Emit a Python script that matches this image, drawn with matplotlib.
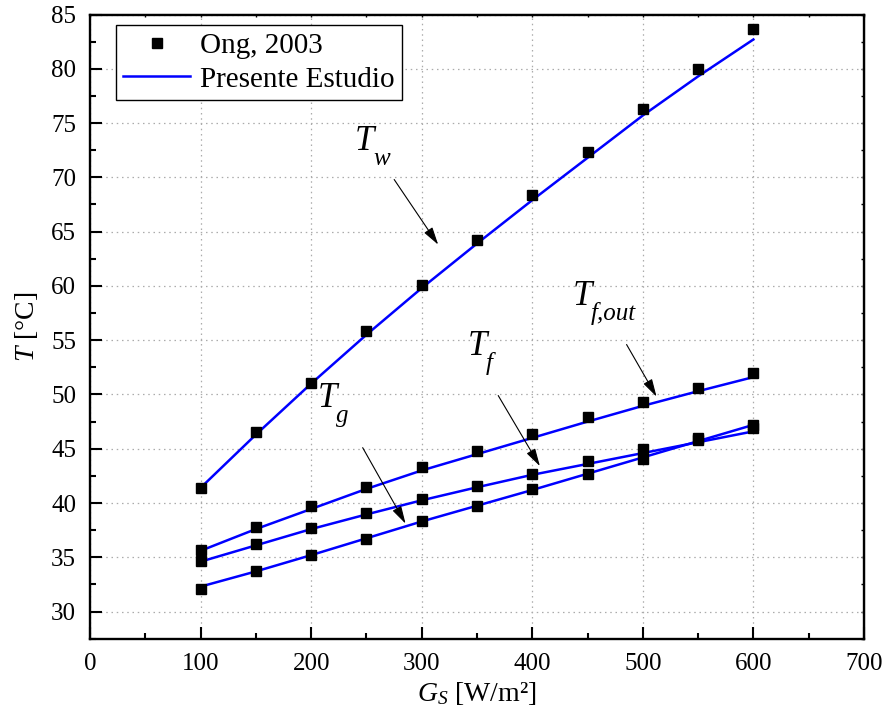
import matplotlib
matplotlib.use("Agg")
import matplotlib.pyplot as plt
from matplotlib.ticker import MultipleLocator

plt.rcParams['font.family'] = ['Liberation Serif', 'DejaVu Serif']
plt.rcParams['mathtext.fontset'] = 'custom'
plt.rcParams['mathtext.rm'] = 'Liberation Serif'
plt.rcParams['mathtext.it'] = 'Liberation Serif:italic'

# irradiance values [W/m2]
gs = [100, 150, 200, 250, 300, 350, 400, 450, 500, 550, 600]

# Ong, 2003 (squares)
tw_ong = [41.4, 46.5, 51.1, 55.8, 60.1, 64.2, 68.4, 72.3, 76.3, 80.0, 83.7]
tfout_ong = [35.7, 37.8, 39.7, 41.5, 43.3, 44.8, 46.4, 47.9, 49.3, 50.6, 52.0]
tf_ong = [34.7, 36.2, 37.7, 39.05, 40.4, 41.6, 42.7, 43.9, 45.0, 46.0, 47.2]
tg_ong = [32.1, 33.7, 35.2, 36.7, 38.3, 39.75, 41.3, 42.7, 44.1, 45.8, 46.9]

# Presente Estudio (lines)
tw_model = [41.4, 46.3, 51.0, 55.5, 59.8, 63.9, 67.9, 71.8, 75.7, 79.3, 82.7]
tfout_model = [35.6, 37.6, 39.45, 41.3, 43.0, 44.5, 46.0, 47.5, 48.95, 50.3, 51.6]
tf_model = [34.6, 36.1, 37.6, 38.95, 40.25, 41.45, 42.6, 43.6, 44.6, 45.6, 46.6]
tg_model = [32.3, 33.7, 35.2, 36.75, 38.3, 39.75, 41.2, 42.7, 44.2, 45.7, 47.2]

# labels: (main, subscript, text pos, arrow tail, arrow head)
labels = [
    ('T', 'w', (239.6, 72.5), (275.1, 69.8), (314.9, 63.8)),
    ('T', 'f,out', (436.7, 58.25), (485.3, 54.6), (512.4, 49.8)),
    ('T', 'f', (341.8, 53.65), (369.2, 49.9), (406.9, 43.4)),
    ('T', 'g', (206.1, 48.8), (246.6, 45.1), (285.4, 38.1)),
]

fig = plt.figure(figsize=(8.87, 7.25), dpi=100)
ax = fig.add_axes([0.1015, 0.119, 0.8725, 0.861])

ax.plot(gs, tw_model, color='#0000ff', lw=1.8, zorder=2, label='Presente Estudio')
for ys in (tfout_model, tf_model, tg_model):
    ax.plot(gs, ys, color='#0000ff', lw=1.8, zorder=2)

ax.plot(gs, tw_ong, 's', color='black', ms=6.5, zorder=3, label='Ong, 2003')
for ys in (tfout_ong, tf_ong, tg_ong):
    ax.plot(gs, ys, 's', color='black', ms=6.5, zorder=3)

for main, sub, pos, tail, head in labels:
    ax.text(pos[0], pos[1], main, fontsize=25, style='italic', ha='left', va='baseline')
    ax.annotate(sub, xy=pos, xytext=(18, -15), textcoords='offset pixels',
                fontsize=18, style='italic', ha='left', va='baseline')
    ax.annotate('', xy=head, xytext=tail,
                arrowprops=dict(arrowstyle='-|>,head_length=0.9,head_width=0.25',
                                mutation_scale=12, lw=0.8, color='black',
                                shrinkA=0, shrinkB=0))

ax.set_xlim(0, 700)
ax.set_ylim(27.5, 85)
ax.xaxis.set_major_locator(MultipleLocator(100))
ax.xaxis.set_minor_locator(MultipleLocator(50))
ax.yaxis.set_major_locator(MultipleLocator(5))
ax.yaxis.set_minor_locator(MultipleLocator(2.5))
ax.tick_params(which='both', direction='in', width=1.5, labelsize=18, pad=10)
ax.tick_params(which='major', length=8.5)
ax.tick_params(which='minor', length=4.5)
for s in ax.spines.values():
    s.set_linewidth(1.7)

# small ticks on top and right
top = ax.secondary_xaxis('top')
top.xaxis.set_major_locator(MultipleLocator(50))
top.tick_params(direction='in', length=2, width=1, labeltop=False)
right = ax.secondary_yaxis('right')
right.yaxis.set_major_locator(MultipleLocator(2.5))
right.tick_params(direction='in', length=2, width=1, labelright=False)

ax.grid(True, which='major', color='#ababab', lw=0.9, ls=(0, (1.2, 3)))
ax.set_axisbelow(True)

ax.set_xlabel(r'$G_S$ [W/m²]', fontsize=20, labelpad=4)
ax.set_ylabel(r'$T$ [°C]', fontsize=20, labelpad=8)

handles, names = ax.get_legend_handles_labels()
ax.legend(handles[::-1], names[::-1], loc='upper left', bbox_to_anchor=(0.0332, 0.983),
          borderaxespad=0, fontsize=21, fancybox=False, edgecolor='black',
          framealpha=1, handlelength=2.3, borderpad=0.25, labelspacing=0.25,
          handletextpad=0.35)

fig.savefig('out.png', dpi=100)
